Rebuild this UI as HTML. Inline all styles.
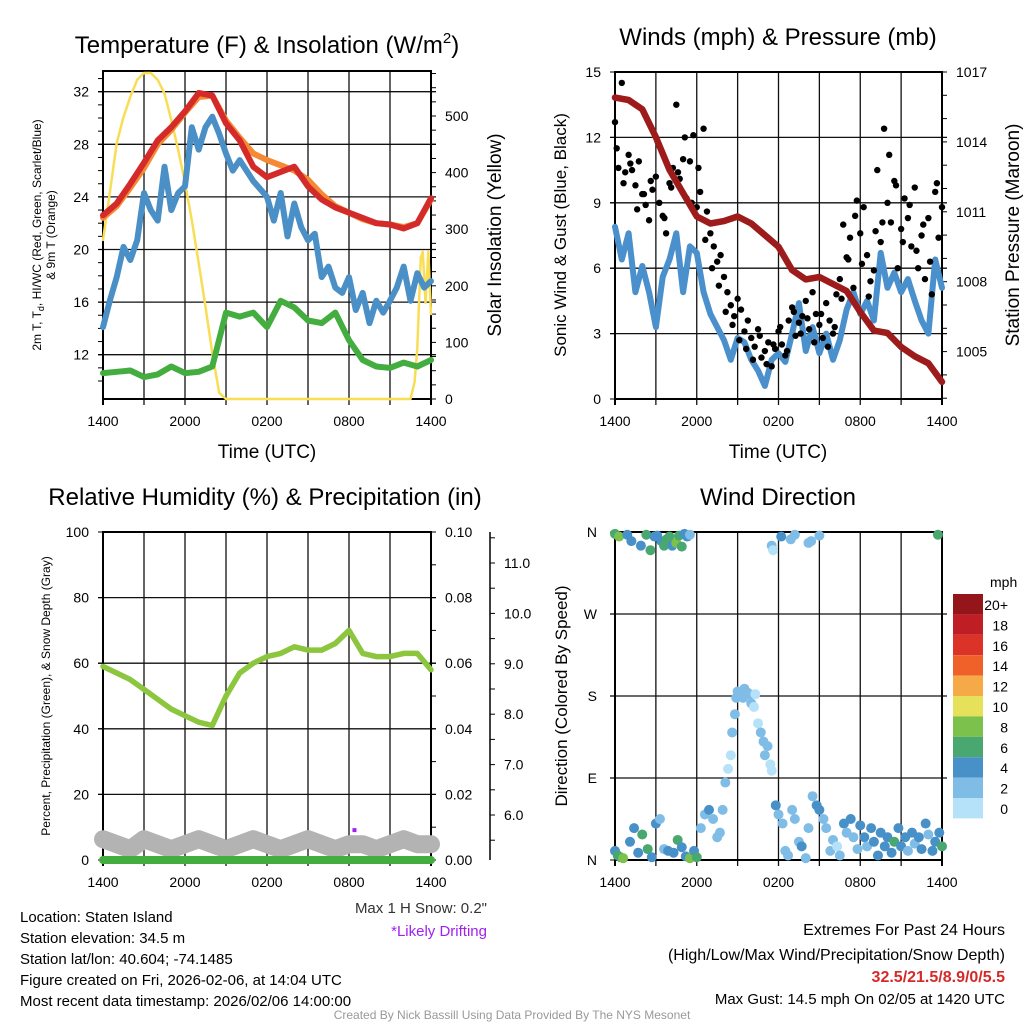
<!DOCTYPE html>
<html><head><meta charset="utf-8"><style>
html,body{margin:0;padding:0;background:#fff;}
svg{display:block;font-family:"Liberation Sans",sans-serif;}
</style></head><body>
<svg id="fig" width="1024" height="1024" viewBox="0 0 1024 1024" xmlns="http://www.w3.org/2000/svg">
<rect x="0" y="0" width="1024" height="1024" fill="#fff"/>
<text x="267" y="53" font-size="24" text-anchor="middle">Temperature (F) &amp; Insolation (W/m<tspan dy="-10" font-size="15">2</tspan><tspan dy="10">)</tspan></text>
<text x="778" y="45" font-size="24" text-anchor="middle">Winds (mph) &amp; Pressure (mb)</text>
<text x="265" y="505" font-size="24" text-anchor="middle">Relative Humidity (%) &amp; Precipitation (in)</text>
<text x="778" y="505" font-size="24" text-anchor="middle">Wind Direction</text>
<text x="267" y="458" font-size="19" text-anchor="middle">Time (UTC)</text>
<text x="778" y="458" font-size="19" text-anchor="middle">Time (UTC)</text>
<text transform="translate(41,235) rotate(-90)" font-size="12" text-anchor="middle">2m T, T<tspan font-size="9" dy="3">d</tspan><tspan dy="-3">, HI/WC (Red, Green, Scarlet/Blue)</tspan></text>
<text transform="translate(55,235) rotate(-90)" font-size="12" text-anchor="middle">&amp; 9m T (Orange)</text>
<text transform="translate(501,235) rotate(-90)" font-size="19" text-anchor="middle">Solar Insolation (Yellow)</text>
<text transform="translate(566,235) rotate(-90)" font-size="17" text-anchor="middle">Sonic Wind &amp; Gust (Blue, Black)</text>
<text transform="translate(1019,235) rotate(-90)" font-size="19" text-anchor="middle">Station Pressure (Maroon)</text>
<text transform="translate(50,696) rotate(-90)" font-size="12" text-anchor="middle">Percent, Precipitation (Green), &amp; Snow Depth (Gray)</text>
<text transform="translate(567,696) rotate(-90)" font-size="17" text-anchor="middle">Direction (Colored By Speed)</text>
<g font-size="15">
<text x="20" y="922">Location: Staten Island</text>
<text x="20" y="943">Station elevation: 34.5 m</text>
<text x="20" y="964">Station lat/lon: 40.604; -74.1485</text>
<text x="20" y="985">Figure created on Fri, 2026-02-06, at 14:04 UTC</text>
<text x="20" y="1006">Most recent data timestamp: 2026/02/06 14:00:00</text>
</g>
<text x="487" y="913" font-size="15" text-anchor="end" fill="#333">Max 1 H Snow: 0.2"</text>
<text x="487" y="936" font-size="15" text-anchor="end" fill="#a020f0">*Likely Drifting</text>
<g font-size="16" text-anchor="end">
<text x="1005" y="935">Extremes For Past 24 Hours</text>
<text x="1005" y="960">(High/Low/Max Wind/Precipitation/Snow Depth)</text>
<text x="1005" y="982" fill="#d42a2a" font-weight="bold">32.5/21.5/8.9/0/5.5</text>
<text x="1005" y="1004" font-size="15">Max Gust: 14.5 mph On 02/05 at 1420 UTC</text>
</g>
<text x="512" y="1019" font-size="12" fill="#999" text-anchor="middle">Created By Nick Bassill Using Data Provided By The NYS Mesonet</text>
</svg>
<script>
// ---- data ----
const xTickLabels = ["1400","2000","0200","0800","1400"];
const tempRed = [22.6,23.5,25.0,26.6,28.3,29.3,30.5,31.9,31.7,29.6,28.3,26.3,25.5,25.9,26.3,24.8,23.8,23.2,22.8,22.4,22.0,21.9,21.6,22.0,23.9];
const tempOrange = [22.4,23.3,24.7,26.2,28.0,29.1,30.4,31.6,31.7,29.8,28.5,27.3,26.8,26.4,26.0,25.3,24.2,23.3,22.8,22.3,22.0,21.9,21.7,22.0,23.8];
const tempBlue = [14.1,16.1,17.9,20.2,19.2,20.7,24.3,23.0,22.2,26.3,23.0,24.3,24.8,29.3,27.6,29.3,30.1,28.8,27.3,26.0,26.8,26.0,25.2,24.6,24.0,22.2,24.3,21.0,23.5,21.7,20.7,21.2,17.9,18.7,17.1,16.7,17.9,15.4,16.7,14.4,16.1,15.2,16.1,17.1,18.7,16.1,18.2,17.1,17.6];
const tempGreen = [10.6,10.7,10.8,10.3,10.5,11.1,10.6,10.7,11.1,15.2,14.9,15.2,14.1,16.1,15.6,14.6,14.4,15.2,13.1,11.6,11.1,11.0,11.4,11.1,11.6];
const insolT = [0,0.5,1,1.5,2,2.5,3,3.5,4,4.5,5,5.5,6,6.5,7,7.5,8,8.5,9,22.5,22.8,23.0,23.25,23.4,23.6,23.8,24];
const insolW = [281,364,452,498,534,564,576,576,564,540,493,440,382,316,240,163,81,11,0,0,30,90,250,260,170,260,150];
const sonic = [7.9,6.4,7.6,4.9,6.1,4.9,3.3,5.6,6.4,7.6,4.9,7.0,6.7,4.9,3.9,3.3,2.7,1.8,2.8,2.6,1.8,1.3,0.6,1.8,2.1,1.7,3.0,4.4,2.2,3.3,2.1,3.0,1.8,2.7,4.1,4.9,3.9,4.5,3.6,6.7,5.1,5.8,4.9,5.5,4.5,3.6,3.0,6.4,5.1];
const pressure = [1015.9,1015.8,1015.4,1014.2,1012.8,1011.8,1010.8,1010.5,1010.6,1010.8,1010.5,1010.0,1009.5,1008.5,1008.1,1008.2,1007.9,1007.6,1006.7,1005.9,1005.8,1005.2,1004.8,1004.5,1003.7];
const gustA = [12.7,10.6,14.5,10.4,11.2,10.5,9.8,10.9,9.4,8.9,8.2,9.6,10.2,9.0,8.4,7.6,9.9,10.6,13.5,10.1,11.0,9.2,10.9,12.1,8.8,9.5,12.4,8.6,7.6,7.0,6.3,6.6,5.6,4.9,4.3,3.8,4.6,4.1,3.1,3.6,2.8,2.4,3.2,1.9,2.2,2.6,1.5,2.3,3.1,2.5,2.0,3.6,4.2,2.9,3.5,3.8,4.5,3.2,4.9,3.9,3.4,2.8,4.4,3.6,3.0,4.8,5.5,8.0,6.5,7.4,5.1,9.1,7.6,8.8,6.6,5.4,5.9,10.5,7.2,12.4,9.0,8.1,10.0,6.0,7.8,9.2,8.3,7.0,9.7,6.0,7.5,5.5,8.3,4.8,9.5,7.4,8.8];
const gustB = [11.5,9.9,10.8,8.7,9.4,10.0,11.8,8.3,9.7,10.4,12.0,9.0,10.6,7.3,6.0,5.2,4.0,3.4,2.7,2.3,1.8,2.9,1.6,2.5,3.3,2.2,4.0,3.0,3.7,2.6,3.9,2.4,3.3,4.6,6.4,8.4,6.2,4.7,7.7,8.1,11.2,9.8,7.2,8.9,6.8,8.0,6.3,9.9];
const rh = [59,57,55,52,49,46,44,42,41,50,57,60,62,63,65,64,64,66,70,63,62,62,63,63,58];
const snowDepth = [5.6,5.5,5.4,5.6,5.5,5.4,5.5,5.6,5.5,5.4,5.5,5.6,5.5,5.4,5.5,5.6,5.5,5.4,5.5,5.5,5.4,5.5,5.6,5.5,5.5];
const dirT = [0.0,0.3,0.9,1.2,1.9,2.3,2.6,2.9,3.1,3.4,3.6,3.8,4.0,4.2,4.5,4.7,4.9,5.1,5.3,5.5,
 0.0,0.2,0.4,0.6,1.1,1.4,1.7,2.0,2.4,2.7,3.0,3.3,3.6,3.9,4.3,4.6,4.9,5.2,5.5,5.8,6.0,6.3,
 6.6,6.9,7.2,7.5,7.7,7.9,8.1,8.3,8.5,8.6,8.8,8.9,
 9.0,9.2,9.4,9.5,9.7,9.9,10.0,10.2,10.3,10.5,10.7,10.9,11.0,11.2,11.4,11.5,
 11.8,12.0,12.3,12.5,12.7,13.0,13.2,13.5,13.7,14.0,14.2,14.5,14.8,15.0,15.3,15.5,15.8,16.0,16.3,16.5,16.8,17.0,17.3,17.5,17.8,18.0,18.3,18.5,18.8,19.0,19.3,19.5,19.8,20.0,20.3,20.5,20.8,21.0,21.3,21.5,21.8,22.0,22.3,22.5,22.8,23.0,23.3,23.5,23.8,24.0,
 11.5,11.6,12.2,12.9,13.2,14.2,14.4,15.0,23.7];
const dirDeg = [358,355,357,350,345,357,340,355,356,350,345,352,355,345,348,356,344,358,355,357,
 10,5,3,2,20,35,8,28,12,3,40,45,12,10,8,22,14,4,2,10,3,35,
 50,55,45,25,30,55,85,100,115,140,160,178,
 185,180,178,188,184,182,172,168,182,150,140,130,115,125,105,98,
 60,50,40,10,5,55,45,20,15,2,35,70,60,55,45,35,10,22,15,5,40,30,45,25,12,38,25,15,35,20,5,30,15,25,8,20,35,15,25,10,30,18,25,12,40,28,10,20,30,15,
 345,340,355,352,357,348,350,356,357];
const dirSpd = [7,8,4,5,4,6,6,4,4,5,6,7,6,5,8,7,6,5,4,3,
 4,6,7,8,4,4,5,6,6,5,4,3,3,4,4,6,5,4,8,4,6,3,
 3,4,2,3,2,2,3,1,1,3,3,3,
 2,2,2,2,2,2,2,1,1,1,2,2,2,2,1,1,
 4,2,3,2,2,2,3,2,4,3,2,3,4,4,3,2,2,3,1,2,4,3,4,2,3,4,4,3,4,5,4,4,4,4,4,6,4,4,4,3,4,3,4,4,4,3,5,4,4,6,
 2,1,4,2,2,2,2,2,6];
const cbLabels = ["20+","18","16","14","12","10","8","6","4","2","0"];
const cbColors = ["#94161a","#bf1e24","#dc3328","#ef6129","#f6a947","#e6e15a","#7cc14b","#48a86f","#4890c8","#7fbde6","#b5e2f8"];

// ---- helpers ----
const NS = "http://www.w3.org/2000/svg";
const svg = document.getElementById("fig");
function mk(tag, attrs, parent) {
  const e = document.createElementNS(NS, tag);
  for (const k in attrs) e.setAttribute(k, attrs[k]);
  (parent || svg).appendChild(e);
  return e;
}
function txt(s, attrs, parent) { const e = mk("text", attrs, parent); e.textContent = s; return e; }
function idxT(arr, i) { return i * 24 / (arr.length - 1); }

// scales
const L1 = 103, R1 = 431, L2 = 615, R2 = 942;
const xA = t => L1 + t * (R1 - L1) / 24;
const xB = t => L2 + t * (R2 - L2) / 24;
const yT = v => 91.7 + (32 - v) * 13.15;
const yI = w => 399 - w * 0.566;
const yW = v => 399 - v * 21.8;
const yP = p => 72 + (1017 - p) * 23.3;
const yRH = v => 860 - v * 3.28;
const yPr = v => 860 - v * 3280;
const ySn = d => 815 - (d - 6) * 50.4;
const yD = d => 860 - d * 328 / 360;
function spdColor(s) { let k = Math.min(10, Math.floor(s / 2)); return cbColors[10 - k]; }

function frame(L, R, T, B, name, hGrid, xs) {
  const g = mk("g", {});
  
  
  for (let h = 3; h < 24; h += 3) mk("line", {x1: xs(h), x2: xs(h), y1: T, y2: B + 6, stroke: "#111", "stroke-width": 1.3}, g);
  hGrid.forEach(y => mk("line", {x1: L - 5, x2: R + 5, y1: y, y2: y, stroke: "#111", "stroke-width": 1.3}, g));
  for (let h = 0; h <= 24; h += 6) txt(xTickLabels[h / 6], {x: xs(h), y: B + 27, "font-size": 14, "text-anchor": "middle"}, g);
  const b = mk("rect", {x: L, y: T, width: R - L, height: B - T, fill: "none", stroke: "#000", "stroke-width": 2});
  
  
  mk("line", {x1: L, x2: L, y1: B, y2: B + 6, stroke: "#000", "stroke-width": 2});
  mk("line", {x1: R, x2: R, y1: B, y2: B + 6, stroke: "#000", "stroke-width": 2});
}
function polyline(pts, color, w, name) {
  const p = mk("polyline", {points: pts.map(p => p[0].toFixed(1) + "," + p[1].toFixed(1)).join(" "), fill: "none", stroke: color, "stroke-width": w, "stroke-linejoin": "round", "stroke-linecap": "round"});
  
  
  return p;
}
function yTicks(vals, yf, x, dir, labels, name, fmt, fs) {
  const g = mk("g", {"font-size": fs || 14});
  
  
  vals.forEach(v => mk("line", {x1: x, x2: x + dir * 5, y1: yf(v), y2: yf(v), stroke: "#000", "stroke-width": 1}, g));
  labels.forEach(v => txt(fmt(v), {x: x + dir * 14, y: yf(v) + 5, "text-anchor": dir < 0 ? "end" : "start"}, g));
}
const range = (a, b, s) => { const r = []; for (let v = a; v <= b + 1e-9; v += s) r.push(+v.toFixed(4)); return r; };

// ---- Panel 1 ----
frame(L1, R1, 71, 399, "temperature", [12,16,20,24,28,32].map(yT), xA);
yTicks(range(10, 33, 1), yT, L1, -1, [12,16,20,24,28,32], "temp-left-axis", v => v);
yTicks(range(0, 575, 25), yI, R1, 1, [0,100,200,300,400,500], "insolation-right-axis", v => v);
polyline(insolW.map((w, i) => [xA(insolT[i]), yI(w)]), "#f9dd55", 2.5, "insolation-line");
polyline(tempGreen.map((v, i) => [xA(idxT(tempGreen, i)), yT(v)]), "#43ad3f", 6, "dewpoint-line-green");
polyline(tempBlue.map((v, i) => [xA(idxT(tempBlue, i)), yT(v)]), "#4a8fc6", 6, "windchill-line-blue");
polyline(tempOrange.map((v, i) => [xA(idxT(tempOrange, i)), yT(v)]), "#f58a35", 6, "temp-9m-line-orange");
polyline(tempRed.map((v, i) => [xA(idxT(tempRed, i)), yT(v)]), "#d42a2a", 6, "temp-2m-line-red");

// ---- Panel 2 ----
frame(L2, R2, 72, 399, "wind", [3,6,9,12].map(yW), xB);
yTicks([0,3,6,9,12,15], yW, L2, -1, [0,3,6,9,12,15], "wind-left-axis", v => v);
yTicks(range(1003, 1017, 1), yP, R2, 1, [1005,1008,1011,1014,1017], "pressure-right-axis", v => v);
polyline(sonic.map((v, i) => [xB(idxT(sonic, i)), yW(v)]), "#4a90cc", 6, "sonic-wind-line");
const gg = mk("g", {fill: "#000"});


gustA.forEach((v, i) => { const c = mk("circle", {cx: xB(idxT(gustA, i)), cy: yW(v), r: 3.2}, gg);
  
   });
gustB.forEach((v, i) => { const c = mk("circle", {cx: xB(0.125 + i * 0.5), cy: yW(v), r: 3.2}, gg);
  
   });
polyline(pressure.map((v, i) => [xB(idxT(pressure, i)), yP(v)]), "#9e1b1b", 6.5, "pressure-line");

// ---- Panel 3 ----
frame(L1, R1, 532, 860, "humidity", [20,40,60,80].map(yRH), xA);
yTicks([0,20,40,60,80,100], yRH, L1, -1, [0,20,40,60,80,100], "humidity-left-axis", v => v);
yTicks(range(0, 0.1, 0.01), yPr, R1, 1, [0,0.02,0.04,0.06,0.08,0.1], "precip-right-axis", v => v.toFixed(2));
const sax = mk("line", {x1: 490, x2: 490, y1: 532, y2: 860, stroke: "#000", "stroke-width": 1.5});


yTicks(range(5.5, 11.5, 0.5), ySn, 490, 1, [6,7,8,9,10,11], "snow-depth-axis-ticks", v => v.toFixed(1));
polyline(snowDepth.map((v, i) => [xA(idxT(snowDepth, i)), ySn(v) + 4]), "#b3b3b3", 18, "snow-depth-line");
polyline([[xA(0), yPr(0)], [xA(24), yPr(0)]], "#43ad3f", 8, "precip-line");
polyline(rh.map((v, i) => [xA(idxT(rh, i)), yRH(v)]), "#8cc63f", 5.5, "humidity-line");
const drift = mk("rect", {x: xA(18.4) - 2, y: ySn(5.7) - 2, width: 4, height: 4, fill: "#a020f0"});



// ---- Panel 4 ----
frame(L2, R2, 532, 860, "direction", [90,180,270].map(yD), xB);
const dl = mk("g", {"font-size": 14});


[["N",360],["W",270],["S",180],["E",90],["N",0]].forEach(p => { mk("line", {x1: L2 - 5, x2: L2, y1: yD(p[1]), y2: yD(p[1]), stroke: "#000"}, dl); txt(p[0], {x: 597, y: yD(p[1]) + 5, "text-anchor": "end"}, dl); });
const dg = mk("g", {});


const nD = Math.min(dirT.length, dirDeg.length, dirSpd.length);
for (let i = 0; i < nD; i++) {
  const c = mk("circle", {cx: xB(dirT[i]), cy: yD(dirDeg[i]), r: 5, fill: spdColor(dirSpd[i])}, dg);
  
  
}
// colorbar
const cb = mk("g", {"font-size": 14});


txt("mph", {x: 990, y: 587}, cb);
cbColors.forEach((c, i) => {
  const r = mk("rect", {x: 953, y: 594 + i * 20.4, width: 30, height: 20.4, fill: c}, cb);
  
  
  txt(cbLabels[i], {x: 1008, y: 610 + i * 20.4, "text-anchor": "end"}, cb);
});
</script>
</body></html>
